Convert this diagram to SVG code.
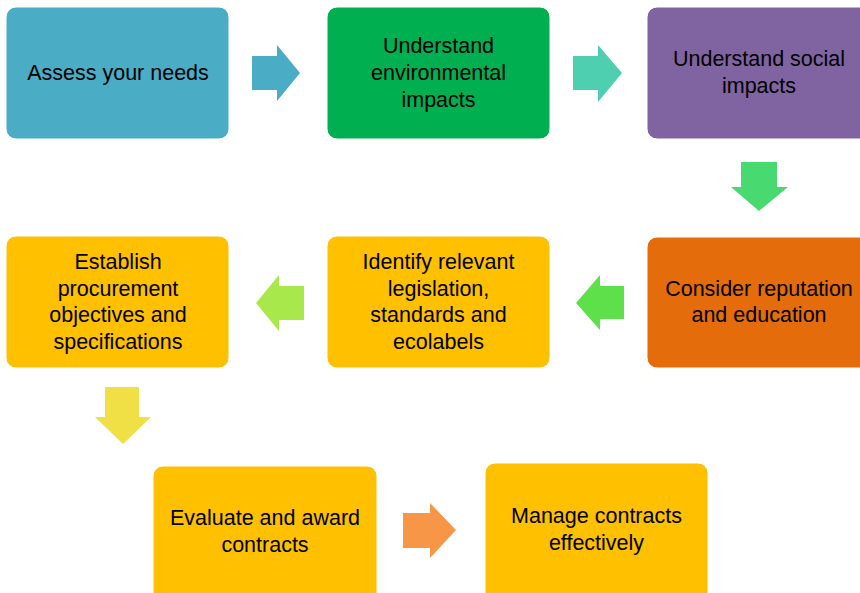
<svg xmlns="http://www.w3.org/2000/svg" width="860" height="593" viewBox="0 0 860 593">
<style>
.box{stroke:#ffffff;stroke-width:1}
.t{font-family:"Liberation Sans",Arial,sans-serif;font-size:21.5px;fill:#000;text-anchor:middle}
</style>
<rect width="860" height="593" fill="#ffffff"/>
<g id="connectors">
<polygon points="252,56 277,56 277,45 300,73 277,101 277,90 252,90" fill="#4BACC6"/>
<polygon points="573,56 598,56 598,45 622,73 598,102 598,90 573,90" fill="#4ECFAF"/>
<polygon points="741,162 777,162 777,187 788,187 759,211 731,187 741,187" fill="#48D970"/>
<polygon points="624,286 600,286 600,275 576,303 600,330 600,319 624,319" fill="#5EE04B"/>
<polygon points="304,286 279,286 279,275 256,303 279,331 279,320 304,320" fill="#A9E84A"/>
<polygon points="105,387 139,387 139,417 151,417 123,444 95,417 105,417" fill="#F0E046"/>
<polygon points="403,513 430,513 430,503 456,530 430,558 430,548 403,548" fill="#F79646"/>
</g>
<g id="n1">
<rect class="box" x="6" y="7" width="223" height="132" rx="10" fill="#4BACC6"/>
<text class="t" x="118" y="80">Assess your needs</text>
</g>
<g id="n2">
<rect class="box" x="327" y="7" width="223" height="132" rx="10" fill="#00B050"/>
<text class="t" x="438.5" y="53">Understand</text>
<text class="t" x="438.5" y="80">environmental</text>
<text class="t" x="438.5" y="107">impacts</text>
</g>
<g id="n3">
<rect class="box" x="647" y="7" width="223" height="132" rx="10" fill="#8064A2"/>
<text class="t" x="759" y="66">Understand social</text>
<text class="t" x="759" y="93">impacts</text>
</g>
<g id="n4">
<rect class="box" x="647" y="237" width="223" height="131" rx="10" fill="#E46C0A"/>
<text class="t" x="759" y="296">Consider reputation</text>
<text class="t" x="759" y="322">and education</text>
</g>
<g id="n5">
<rect class="box" x="327" y="236" width="223" height="132" rx="10" fill="#FFC000"/>
<text class="t" x="438.5" y="269">Identify relevant</text>
<text class="t" x="438.5" y="296">legislation,</text>
<text class="t" x="438.5" y="322">standards and</text>
<text class="t" x="438.5" y="349">ecolabels</text>
</g>
<g id="n6">
<rect class="box" x="6" y="236" width="223" height="132" rx="10" fill="#FFC000"/>
<text class="t" x="118" y="269">Establish</text>
<text class="t" x="118" y="296">procurement</text>
<text class="t" x="118" y="322">objectives and</text>
<text class="t" x="118" y="349">specifications</text>
</g>
<g id="n7">
<rect class="box" x="153" y="466" width="224" height="140" rx="10" fill="#FFC000"/>
<text class="t" x="265" y="525">Evaluate and award</text>
<text class="t" x="265" y="552">contracts</text>
</g>
<g id="n8">
<rect class="box" x="485" y="463" width="223" height="143" rx="10" fill="#FFC000"/>
<text class="t" x="596.5" y="523">Manage contracts</text>
<text class="t" x="596.5" y="550">effectively</text>
</g>
</svg>
